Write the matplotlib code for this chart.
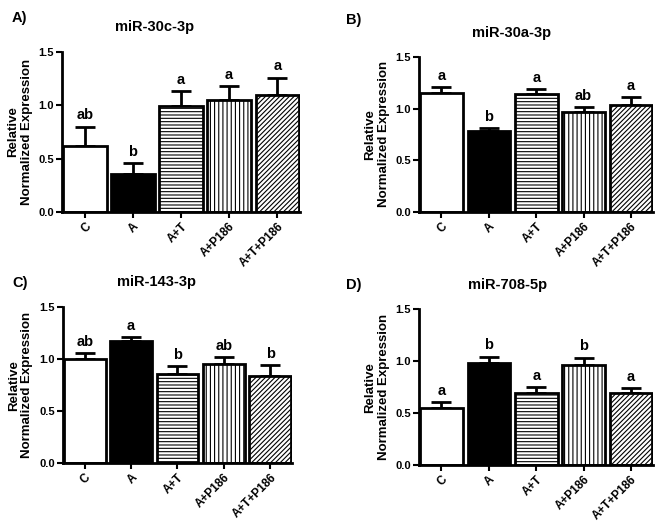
import numpy as np
import matplotlib
matplotlib.use('Agg')
import matplotlib.pyplot as plt
import matplotlib.transforms as mtransforms

plt.rcParams['font.family'] = ['Liberation Sans', 'DejaVu Sans']
plt.rcParams['font.weight'] = 'bold'
plt.rcParams['hatch.linewidth'] = 0.8

groups = ['C', 'A', 'A+T', 'A+P186', 'A+T+P186']

# panel A
mir30c_mean = [0.62, 0.36, 0.99, 1.05, 1.10]
mir30c_err = [0.18, 0.10, 0.14, 0.13, 0.16]
mir30c_sig = ['ab', 'b', 'a', 'a', 'a']
# panel B
mir30a_mean = [1.15, 0.78, 1.14, 0.97, 1.03]
mir30a_err = [0.06, 0.035, 0.05, 0.045, 0.08]
mir30a_sig = ['a', 'b', 'a', 'ab', 'a']
# panel C
mir143_mean = [1.00, 1.17, 0.86, 0.95, 0.84]
mir143_err = [0.055, 0.045, 0.07, 0.07, 0.10]
mir143_sig = ['ab', 'a', 'b', 'ab', 'b']
# panel D
mir708_mean = [0.55, 0.98, 0.69, 0.96, 0.69]
mir708_err = [0.06, 0.065, 0.065, 0.075, 0.055]
mir708_sig = ['a', 'b', 'a', 'b', 'a']

fills = ['white', 'black', 'white', 'white', 'white']
hatches = [None, None, '-----', '||||', '///////']

fig = plt.figure(figsize=(6.56, 5.25), dpi=100)

panels = [
    ('A)', 'miR-30c-3p', mir30c_mean, mir30c_err, mir30c_sig, [0.095, 0.596, 0.362, 0.305], (12, 18), (155, 27)),
    ('B)', 'miR-30a-3p', mir30a_mean, mir30a_err, mir30a_sig, [0.639, 0.596, 0.357, 0.296], (346, 20), (512, 33)),
    ('C)', 'miR-143-3p', mir143_mean, mir143_err, mir143_sig, [0.096, 0.118, 0.349, 0.297], (12, 283), (157, 282)),
    ('D)', 'miR-708-5p', mir708_mean, mir708_err, mir708_sig, [0.639, 0.114, 0.357, 0.297], (346, 285), (508, 285)),
]

x = np.arange(len(groups))
# offset of rotated group labels from (tick, axis line), in pixels
shift = mtransforms.ScaledTranslation(4 / 100, -13 / 100, fig.dpi_scale_trans)
for tag, title, mean, err, sig, rect, tagpos, titlepos in panels:
    ax = fig.add_axes(rect)
    bars = ax.bar(x, mean, width=0.9, color=fills, edgecolor='black', linewidth=2.0, zorder=2)
    for b, h in zip(bars, hatches):
        if h:
            b.set_hatch(h)
    ax.errorbar(x, mean, yerr=[np.zeros(len(mean)), err], fmt='none', ecolor='black',
                elinewidth=2.0, capsize=7, capthick=2.0, zorder=1)
    for xi, m, e, s in zip(x, mean, err, sig):
        ax.text(xi, m + e + 0.04, s, ha='center', va='bottom', fontsize=10.5, fontweight='bold')
    ax.set_xlim(-0.47, 4.47)
    ax.set_ylim(0, 1.5)
    ax.set_yticks([0.0, 0.5, 1.0, 1.5])
    ax.set_yticklabels(['0.0', '0.5', '1.0', '1.5'])
    ax.set_xticks(x)
    ax.set_xticklabels([])
    for xi, g in zip(x, groups):
        ax.text(xi, 0, g, rotation=45, ha='right', va='center', rotation_mode='anchor',
                fontsize=8.5, fontweight='bold', transform=ax.get_xaxis_transform() + shift)
    ax.tick_params(axis='y', labelsize=8, width=1.5, length=4, direction='out', pad=2)
    ax.tick_params(axis='x', width=1.5, length=4, direction='out')
    for sp in ['top', 'right']:
        ax.spines[sp].set_visible(False)
    for sp in ['left', 'bottom']:
        ax.spines[sp].set_linewidth(2.0)
    ax.set_ylabel('Relative\nNormalized Expression', fontsize=9.5, fontweight='bold', labelpad=4)
    fig.text(tagpos[0] / 656, 1 - tagpos[1] / 525, tag, fontsize=10.5, fontweight='bold', va='center')
    fig.text(titlepos[0] / 656, 1 - titlepos[1] / 525, title, fontsize=10.5, fontweight='bold',
             ha='center', va='center')

fig.savefig('out.png', dpi=100)
